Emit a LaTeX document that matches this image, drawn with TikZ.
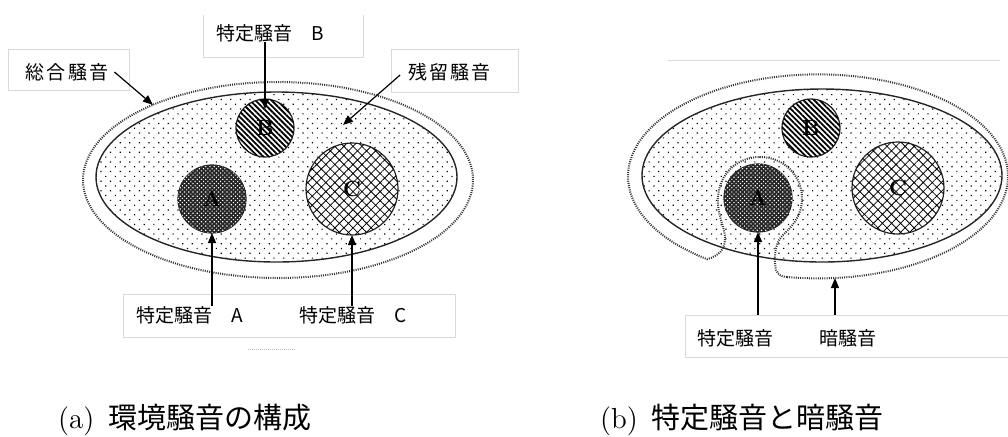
\documentclass[tikz,border=0pt]{standalone}
\usepackage{fontspec}
\newfontfamily\jp{Noto Sans CJK JP}
\newfontfamily\jpw{Noto Sans CJK JP}[LetterSpace=12]
\usetikzlibrary{shapes,arrows.meta,positioning,patterns.meta}

\begin{document}
\begin{tikzpicture}[x=0.5pt,y=-0.5pt,>={Triangle[length=5pt,width=4pt]},
every node/.style={inner sep=0pt,outer sep=0pt},
lbl/.style={font=\jp\fontsize{9.5}{11}\selectfont},
wide/.style={font=\jpw\fontsize{9.5}{11}\selectfont},
subcap/.style={font=\fontsize{14.5}{17}\selectfont,anchor=west},
frame/.style={draw=black!15,line width=0.5pt},
field/.style={ellipse,draw=black!85,line width=0.7pt,
    pattern={Dots[distance=3.4pt,radius=0.42pt,angle=45]}},
total/.style={ellipse,draw=black!80,line width=1pt,dash pattern=on 0.5pt off 0.6pt},
outline/.style={draw=black!80,line width=1pt,dash pattern=on 0.5pt off 0.6pt},
src/.style={circle,draw=black!85,line width=0.6pt,fill=white,
    font=\bfseries\fontsize{11}{12}\selectfont},
srcA/.style={src,minimum size=34pt,fill=black!85,
    postaction={pattern={Dots[distance=1.5pt,radius=0.4pt,angle=45]},pattern color=white}},
srcB/.style={src,minimum size=29pt,
    postaction={pattern={Lines[angle=-45,distance=1.9pt,line width=0.9pt]}}},
srcC/.style={src,minimum size=46pt,
    postaction={pattern={Hatch[angle=45,distance=3.2pt,line width=0.4pt]}}},
arr/.style={->,line width=0.6pt}]

\useasboundingbox (0,0) rectangle (1008,436);

% (a) left panel
\node[total,minimum width=195pt,minimum height=98pt](tot) at (278,180) {};
\node[field,minimum width=180.5pt,minimum height=85pt](res) at (276.5,177) {};
\node[srcB](B) at (265,128) {B};
\node[srcC](C) at (352,189) {C};
\node[srcA](A) at (212,199) {A};
\coordinate (rest) at (343,125);

\node[frame,minimum width=60.5pt,minimum height=20.5pt](fTot) at (68.5,69.5) {};
\node[wide](tTot) at (67,72) {総合騒音};
\node[minimum width=80pt,minimum height=21pt](fB) at (283,36) {};
\draw[frame] (fB.north west) |- (fB.south east) -- (fB.north east);
\node[lbl](tB) at (270,33) {特定騒音　B};
\node[frame,minimum width=63.5pt,minimum height=21.5pt](fRes) at (454.5,70.5) {};
\node[wide](tRes) at (449.5,72) {残留騒音};
\node[frame,minimum width=166pt,minimum height=21.5pt](fBot) at (289,315.5) {};
\node[lbl](tA) at (190,315) {特定騒音　A};
\node[lbl](tC) at (353.5,315) {特定騒音　C};
\draw[black!25,line width=0.4pt,dash pattern=on 0.5pt off 0.5pt] (248,349) -- (295,349);

\draw[arr] ([xshift=3pt]tTot.east) -- (tot.149);
\draw[arr] ([shift={(-4pt,-1.5pt)}]tRes.west) -- (rest);
\draw[arr] (tB.south -| B) -- ([yshift=-5pt]B.north);
\draw[arr] (tA.north -| A) -- (A.south);
\draw[arr] (tC.north -| C) -- (C.south);

\node[subcap](capA) at (58,420) {(a)\hspace{7pt}{\jp 環境騒音の構成}};

% (b) right panel
\draw[frame] (668,60) -- (1000,60);
\node[field,minimum width=180pt,minimum height=86.5pt](res2) at (822,175.5) {};
\node[srcB](B2) at (811,128) {B};
\node[srcC](C2) at (898,188) {C};
\node[srcA](A2) at (758,198) {A};
\draw[outline] (787,277) arc[start angle=99.4,end angle=-234.3,x radius=190,y radius=102]
  .. controls (718,256) and (726,250) .. (725,236)
  .. controls (724,226) and (717,214) .. (718,198)
  .. controls (719,174) and (737,157) .. (760,157)
  .. controls (784,157) and (802,176) .. (802,198)
  .. controls (802,218) and (790,228) .. (782,236)
  .. controls (774,244) and (774,262) .. (776,270)
  .. controls (778,275) and (782,277) .. (787,277);
\coordinate (bg) at (835,278);

\node[minimum width=161.5pt,minimum height=21pt](fBot2) at (846.5,336) {};
\draw[frame] (fBot2.north east) -| (fBot2.south west) -- (fBot2.south east);
\node[lbl](tA2) at (735,338) {特定騒音};
\node[lbl](tBg) at (847.5,338) {暗騒音};
\draw[arr] (fBot2.north -| A2) -- (A2.south);
\draw[arr] (fBot2.north -| bg) -- (bg);

\node[subcap](capB) at (600,420) {(b)\hspace{7pt}{\jp 特定騒音と暗騒音}};

\end{tikzpicture}
\end{document}
